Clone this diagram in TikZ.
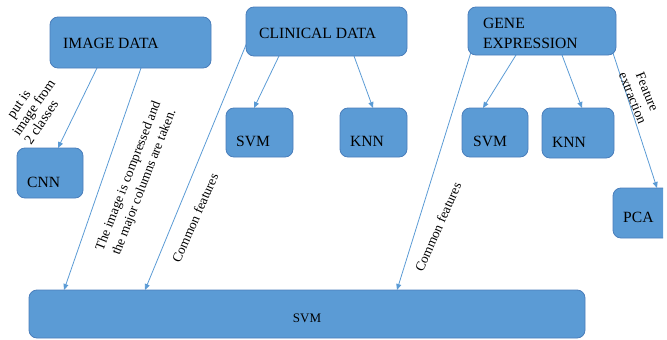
\documentclass[tikz,border=0pt]{standalone}
\usepackage{fontspec}
\setmainfont{Liberation Serif}
\usetikzlibrary{arrows.meta}
\definecolor{boxfill}{HTML}{5B9BD5}
\definecolor{boxline}{HTML}{4A7EBB}
\definecolor{arrowc}{HTML}{5B9BD5}
\pgfdeclarelayer{bg}
\pgfsetlayers{bg,main}
\begin{document}
\begin{tikzpicture}[x=1pt,y=-1pt,
  box/.style={draw=boxline,fill=boxfill,rounded corners=8pt,line width=0.8pt,anchor=north west,inner sep=0pt,outer sep=0pt},
  boxtext/.style={anchor=base west,inner sep=0pt,font=\fontsize{15.6}{18}\selectfont},
  conn/.style={draw=arrowc,line width=0.8pt,-{Triangle[length=6pt,width=5pt]}},
  lbl/.style={inner sep=0pt}]
\useasboundingbox (0,0) rectangle (667,340);

% boxes
\node[box,minimum width=161pt,minimum height=51pt] (img) at (50,17) {};
\node[box,minimum width=161pt,minimum height=49pt] (clin) at (246,7) {};
\node[box,minimum width=148pt,minimum height=48pt] (gene) at (468,7) {};
\node[box,minimum width=66pt,minimum height=50pt] (cnn) at (17,148) {};
\node[box,minimum width=67pt,minimum height=49pt] (svma) at (226,108) {};
\node[box,minimum width=67pt,minimum height=49pt] (knna) at (340,108) {};
\node[box,minimum width=66pt,minimum height=49pt] (svmb) at (462,108) {};
\node[box,minimum width=72pt,minimum height=50pt] (knnb) at (542,108) {};
\begin{scope}
\clip (0,0) rectangle (663,340);
\node[box,minimum width=70pt,minimum height=50pt] (pca) at (613,188) {};
\end{scope}
\node[box,minimum width=556pt,minimum height=48pt] (svm) at (29,290) {};

% box texts
\node[boxtext] (timg) at (63,48) {IMAGE DATA};
\node[boxtext] (tclin) at (259,38) {CLINICAL DATA};
\node[boxtext] (tgene1) at (483,28) {GENE};
\node[boxtext] (tgene2) at (483,48) {EXPRESSION};
\node[boxtext] (tcnn) at (27,187) {CNN};
\node[boxtext] (tsvma) at (236,146) {SVM};
\node[boxtext] (tknna) at (350,146) {KNN};
\node[boxtext] (tsvmb) at (473,146) {SVM};
\node[boxtext] (tknnb) at (552,147) {KNN};
\node[boxtext] (tpca) at (623,222) {PCA};
\node[inner sep=0pt,anchor=base,font=\fontsize{13}{15}\selectfont] (tsvm) at (307,322) {SVM};

% connectors
\begin{pgfonlayer}{bg}
\draw[conn] ([xshift=47pt]img.south west) -- ([xshift=41pt]cnn.north west);
\draw[conn] ([xshift=91pt]img.south west) -- ([xshift=35pt]svm.north west);
\draw[conn] ([xshift=2pt,yshift=16pt]clin.south west) -- ([xshift=116pt]svm.north west);
\draw[conn] ([xshift=33pt]clin.south west) -- ([xshift=28pt]svma.north west);
\draw[conn] ([xshift=108pt]clin.south west) -- ([xshift=33pt]knna.north west);
\draw[conn] ([xshift=3pt,yshift=3pt]gene.south west) -- ([xshift=368pt]svm.north west);
\draw[conn] ([xshift=48pt]gene.south west) -- ([xshift=21pt]svmb.north west);
\draw[conn] ([xshift=94pt]gene.south west) -- ([xshift=40pt]knnb.north west);
\draw[conn] ([xshift=-3pt,yshift=2pt]gene.south east) -- ([xshift=44pt]pca.north west);
\end{pgfonlayer}

% label: input is image from 2 classes
\begin{scope}[shift={(19,137)},rotate=55.6,transform shape]
\node[lbl,anchor=base west,font=\fontsize{14}{16}\selectfont] (l1b) at (0pt,0pt) {image from};
\node[lbl,anchor=base west,font=\fontsize{14}{16}\selectfont] (l1c) at (0pt,-14.5pt) {2 classes};
\begin{scope}
\clip (12.5pt,5pt) rectangle (60pt,30pt);
\node[lbl,anchor=base west,font=\fontsize{14}{16}\selectfont] (l1a) at (0pt,14.5pt) {Input is};
\end{scope}
\end{scope}

% label: image compressed
\begin{scope}[shift={(136.75,179.25)},rotate=68.7,transform shape]
\node[lbl,font=\fontsize{13.4}{16}\selectfont] (l2a) at (0pt,8.5pt) {The image is compressed and};
\node[lbl,font=\fontsize{13.4}{16}\selectfont] (l2b) at (0pt,-8.5pt) {the major columns are taken.};
\end{scope}

% common features
\node[lbl,rotate=66,font=\fontsize{13.4}{15}\selectfont] (cf1) at (195,218) {Common features};
\node[lbl,rotate=66,font=\fontsize{13.4}{15}\selectfont] (cf2) at (438,227) {Common features};

% feature extraction
\begin{scope}[shift={(640,95)},rotate=-68,transform shape]
\node[lbl,font=\fontsize{13.5}{16}\selectfont] (fe1) at (0pt,7.8pt) {Feature};
\node[lbl,font=\fontsize{13.5}{16}\selectfont] (fe2) at (0pt,-7.8pt) {extraction};
\end{scope}
\end{tikzpicture}
\end{document}
